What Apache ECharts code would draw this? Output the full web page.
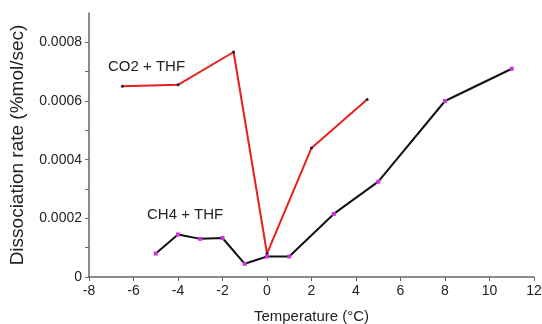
<!DOCTYPE html>
<html lang="en">
<head>
    <meta charset="utf-8">
    <title>Dissociation rate</title>
    <script src="https://cdn.jsdelivr.net/npm/echarts@6/dist/echarts.min.js"></script>
    <style>
        html, body { margin: 0; padding: 0; background: #fff; }
        #main { width: 542px; height: 324px; }
    </style>
</head>
<body>
<div id="main"></div>

<script type="text/javascript">

    // CO2 + THF (red line)
    var co2Temp = [-6.5, -4, -1.5, 0, 2, 4.5];
    var co2Rate = [0.00065, 0.000655, 0.000767, 0.00008, 0.00044, 0.000605];

    // CH4 + THF (black line)
    var ch4Temp = [-5, -4, -3, -2, -1, 0, 1, 3, 5, 8, 11];
    var ch4Rate = [0.00008, 0.000145, 0.00013, 0.000133, 0.000045, 0.00007, 0.00007, 0.000215, 0.000325, 0.0006, 0.00071];

    var seriesNames = ['CO2 + THF', 'CH4 + THF'];

    function pairs(xs, ys) {
        return xs.map(function (x, i) { return [x, ys[i]]; });
    }

    var myChart = echarts.init(document.getElementById('main'));

    var font = 'Liberation Sans, Arial, sans-serif';

    myChart.setOption({
        animation: false,
        grid: { left: 89, right: 8, top: 13, bottom: 47, containLabel: false, outerBoundsMode: 'none' },
        xAxis: {
            type: 'value',
            min: -8, max: 12, interval: 2,
            name: 'Temperature (°C)',
            nameLocation: 'middle',
            nameGap: 32,
            nameTextStyle: { fontFamily: font, fontSize: 15, color: '#222' },
            axisLine: { onZero: false, lineStyle: { color: '#666', width: 1.5 } },
            axisTick: { show: true, length: 4, lineStyle: { color: '#666' } },
            axisLabel: { fontFamily: font, fontSize: 14, color: '#222', margin: 7 },
            splitLine: { show: false }
        },
        yAxis: {
            type: 'value',
            min: 0, max: 0.0009, interval: 0.0001,
            name: 'Dissociation rate (%mol/sec)',
            nameLocation: 'middle',
            nameGap: 62,
            nameTextStyle: { fontFamily: font, fontSize: 19, color: '#222' },
            axisLine: { show: true, onZero: false, lineStyle: { color: '#666', width: 1.5 } },
            axisTick: { show: true, length: 4, lineStyle: { color: '#666' } },
            axisLabel: {
                fontFamily: font, fontSize: 14, color: '#222', margin: 7,
                showMaxLabel: false,
                formatter: function (v) {
                    var k = Math.round(v * 10000);
                    if (k % 2 !== 0) return '';
                    return k === 0 ? '0' : (k / 10000).toFixed(4);
                }
            },
            splitLine: { show: false }
        },
        series: [{
            name: seriesNames[0],
            type: 'line',
            data: pairs(co2Temp, co2Rate),
            symbol: 'circle',
            symbolSize: 3,
            itemStyle: { color: '#1a1a3a' },
            lineStyle: { color: '#e8201c', width: 2 },
            z: 2
        }, {
            name: seriesNames[1],
            type: 'line',
            data: pairs(ch4Temp, ch4Rate),
            symbol: 'rect',
            symbolSize: 4,
            itemStyle: { color: '#cc33dd' },
            lineStyle: { color: '#111', width: 2 },
            z: 3
        }],
        graphic: [{
            type: 'text',
            left: 108, top: 59,
            style: { text: seriesNames[0], fontFamily: font, fontSize: 15, fill: '#222' }
        }, {
            type: 'text',
            left: 147, top: 207,
            style: { text: seriesNames[1], fontFamily: font, fontSize: 15, fill: '#222' }
        }]
    });

</script>
</body>
</html>
